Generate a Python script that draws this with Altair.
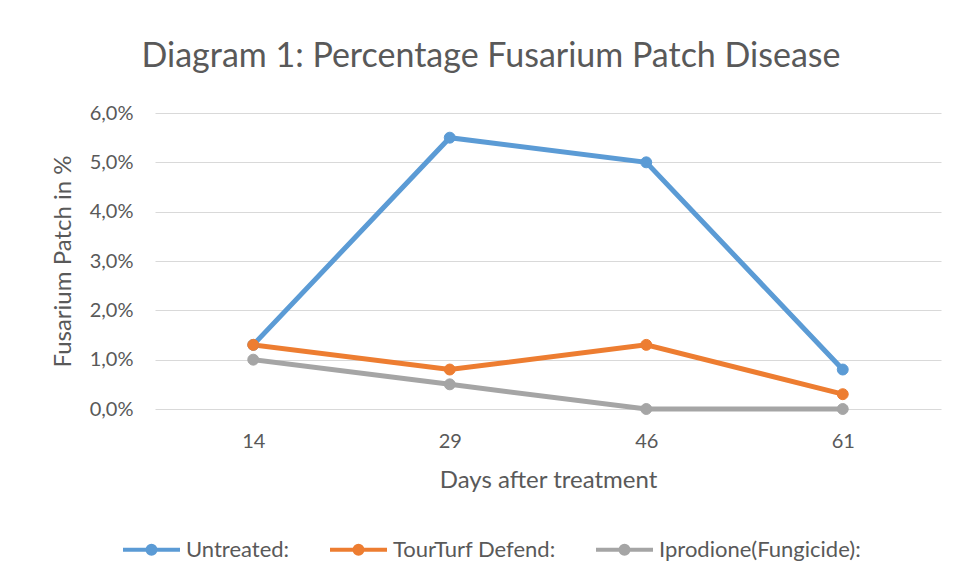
import altair as alt
import pandas as pd

days = ["14", "29", "46", "61"]
series_names = ["Untreated:", "TourTurf Defend:", "Iprodione(Fungicide):"]
untreated = [1.3, 5.5, 5.0, 0.8]
tourturf = [1.3, 0.8, 1.3, 0.3]
iprodione = [1.0, 0.5, 0.0, 0.0]
colors = ["#5B9BD5", "#ED7D31", "#A5A5A5"]
y_ticks = [0, 1, 2, 3, 4, 5, 6]

rows = []
for name, vals in zip(series_names, [untreated, tourturf, iprodione]):
    for d, v in zip(days, vals):
        rows.append({"day": d, "value": v, "series": name})
df = pd.DataFrame(rows)

FONT = "Lato"
TXT = "#595959"

scale = alt.Scale(domain=series_names, range=colors)
sym_path = "M-1,0L1,0M0.14,0A0.14,0.14,0,1,1,-0.14,0A0.14,0.14,0,1,1,0.14,0Z"
legend = alt.Legend(
    title=None, orient="none", direction="horizontal", legendX=-34, legendY=406,
    symbolType=sym_path, symbolSize=3249, symbolStrokeWidth=4,
    labelFont=FONT, labelFontSize=22, labelColor=TXT, labelOffset=4, labelLimit=400,
    columnPadding=32,
)

x_enc = alt.X("day:O", sort=days,
              axis=alt.Axis(title="Days after treatment", labelAngle=0, domain=False, ticks=False,
                            labelPadding=22, titlePadding=17, grid=False))
y_enc = alt.Y("value:Q", scale=alt.Scale(domain=[0, 6], nice=False),
              axis=alt.Axis(title="Fusarium Patch in %", values=y_ticks, domain=False, ticks=False,
                            labelPadding=22, titlePadding=14, gridColor="#D9D9D9", gridWidth=1,
                            labelExpr="replace(format(datum.value, '.1f'), '.', ',') + '%'"))

lines = alt.Chart(df).mark_line(strokeWidth=5).encode(
    x=x_enc, y=y_enc,
    stroke=alt.Stroke("series:N", scale=scale, sort=series_names, legend=legend),
    order=alt.Order("day:O"),
)
points = alt.Chart(df).mark_point(filled=True, size=120, opacity=1, strokeWidth=1).encode(
    x=x_enc, y=y_enc,
    fill=alt.Fill("series:N", scale=scale, sort=series_names, legend=legend),
    stroke=alt.Stroke("series:N", scale=scale, sort=series_names, legend=legend),
)

chart = alt.layer(lines, points).properties(
    width=786, height=296,
    title=alt.Title("Diagram 1: Percentage Fusarium Patch Disease", font=FONT, fontSize=34,
                    fontWeight="normal", color=TXT, anchor="middle", dx=-57, offset=29),
    padding={"left": 147, "top": 105, "right": 5, "bottom": 162},
    autosize=alt.AutoSizeParams(type="none"),
).configure_axis(
    labelFont=FONT, labelFontSize=20, labelColor=TXT,
    titleFont=FONT, titleFontSize=24, titleColor=TXT, titleFontWeight="normal",
).configure_view(stroke=None)

chart.save("out.html", embed_options={"renderer": "svg", "actions": False})
